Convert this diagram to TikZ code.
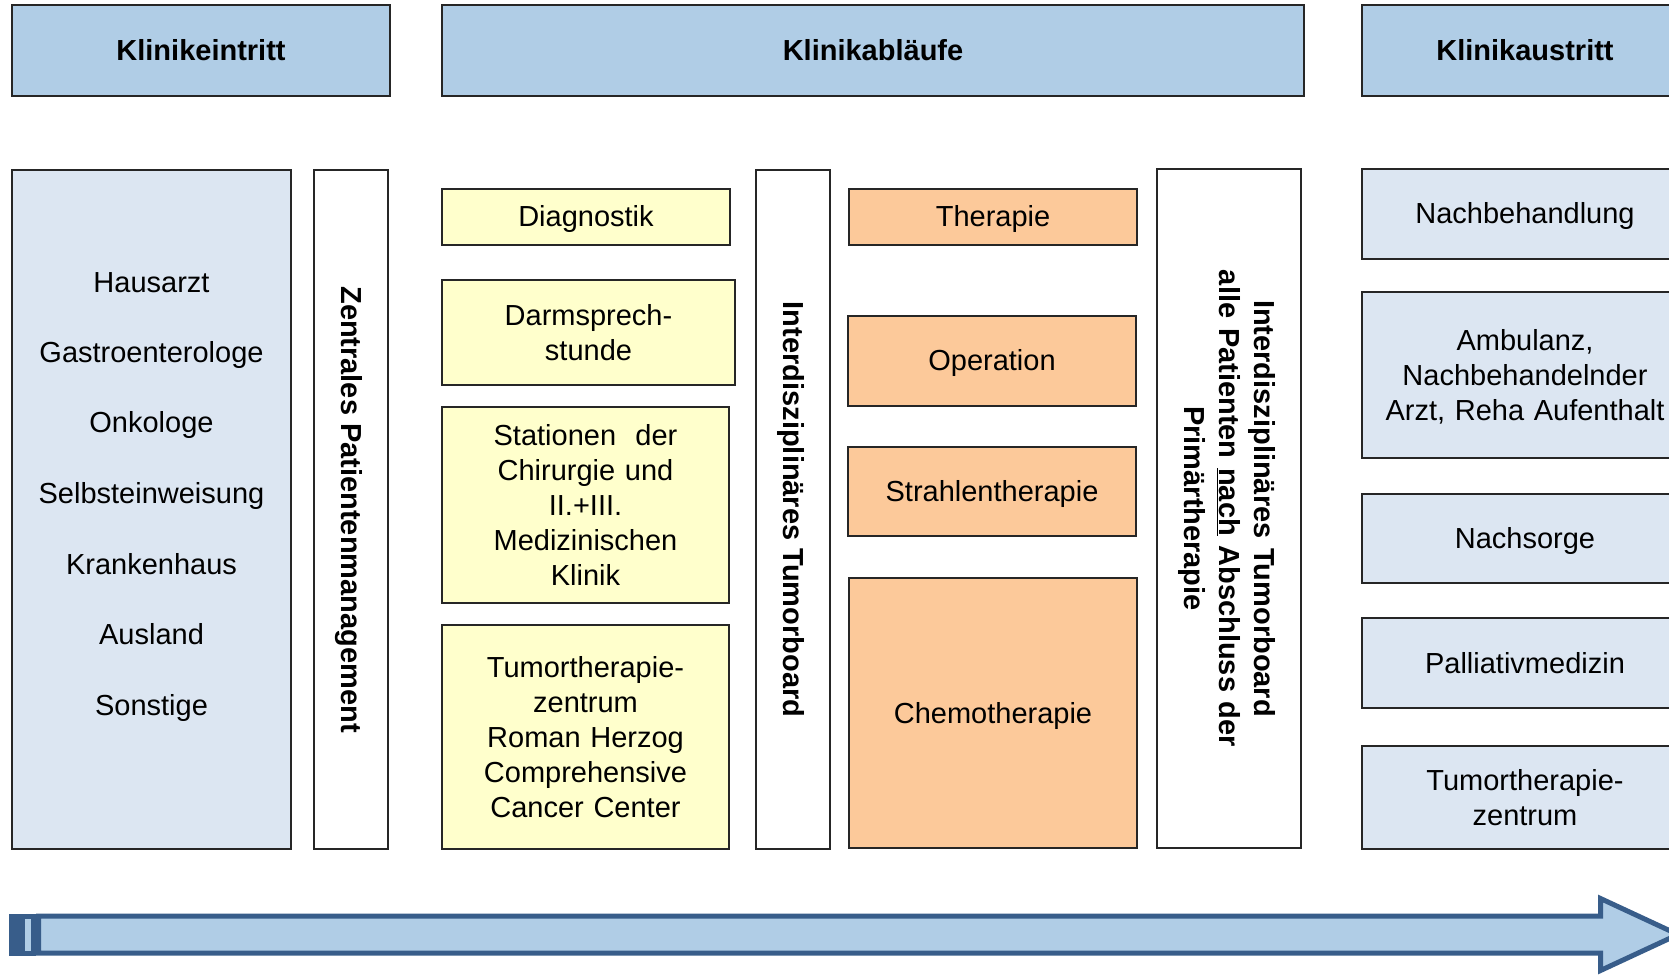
\documentclass[tikz,border=0pt]{standalone}
\usepackage{fontspec}
\setmainfont{Liberation Sans}
\usetikzlibrary{positioning}
\definecolor{hdrblue}{HTML}{B0CDE6}
\definecolor{paleblue}{HTML}{DCE6F2}
\definecolor{paleyellow}{HTML}{FFFFCC}
\definecolor{paleorange}{HTML}{FCC99A}
\definecolor{arrowblue}{HTML}{385D8A}
\newcommand{\txt}{\fontsize{29}{35}\selectfont}

\begin{document}
\begin{tikzpicture}[x=1pt,y=-1pt,
	line/.style={font=\txt,execute at begin node={\rule{0pt}{26pt}},execute at end node={\rule[-6pt]{0pt}{0pt}}},
	multi/.style={text width=#1,execute at end node=},
	box/.style={line,draw=black!85,line width=1.8pt,inner sep=0pt,align=center},
	hdr/.style={box,fill=hdrblue,minimum height=91pt,font=\txt\bfseries},
	vbox/.style={box,fill=white,rotate=-90,minimum width=679pt,font=\txt\bfseries},
	ybox/.style={box,fill=paleyellow,minimum width=288pt},
	obox/.style={box,fill=paleorange,minimum width=288pt},
	rbox/.style={box,fill=paleblue,minimum width=326pt}]
	\useasboundingbox (0,0) rectangle (1669,974);

	\node[hdr,minimum width=378pt] (eintritt) at (201,50.5) {Klinikeintritt};
	\node[hdr,minimum width=862pt] (ablauf) at (873,50.5) {Klinikabläufe};
	\node[hdr,minimum width=326pt] (austritt) at (1525,50.5) {Klinikaustritt};

	\node[box,fill=paleblue,minimum width=279pt,minimum height=679pt] (quellen) at (151.5,509.5) {};
	\foreach \q [count=\i] in {Hausarzt,Gastroenterologe,Onkologe,Selbsteinweisung,Krankenhaus,Ausland,Sonstige}
		\node[line,inner sep=0pt] (q\i) at (151.5,282+70.5*\i-70.5) {\q};
	\node[vbox,minimum height=74pt] (zpm) at (351,509.5) {Zentrales Patientenmanagement};

	\node[ybox,minimum height=56pt] (diag) at (586,217) {Diagnostik};
	\node[ybox,multi=280pt,minimum width=293pt,minimum height=105pt] (darm) at (588.5,332.5) {Darmsprech-\\stunde};
	\node[ybox,multi=280pt,minimum width=287pt,minimum height=196pt] (stat) at (585.5,505) {Stationen\ \ der\\Chirurgie und\\II.+III.\\Medizinischen\\Klinik};
	\node[ybox,multi=280pt,minimum width=287pt,minimum height=224pt] (ttz) at (585.5,737) {Tumortherapie-\\zentrum\\Roman Herzog\\Comprehensive\\Cancer Center};

	\node[vbox,minimum height=74pt] (board) at (793,509.5) {Interdisziplinäres Tumorboard};

	\node[obox,minimum height=56pt] (ther) at (993,217) {Therapie};
	\node[obox,minimum height=90pt] (op) at (992,361) {Operation};
	\node[obox,minimum height=89pt] (strahl) at (992,491.5) {Strahlentherapie};
	\node[obox,minimum height=270pt] (chemo) at (993,713) {Chemotherapie};

	\node[vbox,multi=640pt,minimum height=144pt] (boardnach) at (1229,508.5) {Interdisziplinäres Tumorboard\\alle Patienten \underline{nach} Abschluss der\\Primärtherapie};

	\node[rbox,minimum height=90pt] (nachbeh) at (1525,214) {Nachbehandlung};
	\node[rbox,multi=320pt,minimum height=166pt] (amb) at (1525,375) {Ambulanz,\\Nachbehandelnder\\Arzt, Reha Aufenthalt};
	\node[rbox,minimum height=89pt] (nachs) at (1525,538.5) {Nachsorge};
	\node[rbox,minimum height=90pt] (pall) at (1525,663) {Palliativmedizin};
	\node[rbox,multi=320pt,minimum height=103pt] (ttz2) at (1525,797.5) {Tumortherapie-\\zentrum};

	\begin{scope}[draw=arrowblue,fill=hdrblue,line width=5pt]
		\fill[arrowblue] (9,913.5) rectangle (20,955.5);
		\filldraw (22.5,916) rectangle (33.5,953);
		\filldraw (38.5,916) -- (1600.5,916) -- (1600.5,898.5) -- (1678,934.5)
			-- (1600.5,970.5) -- (1600.5,953) -- (38.5,953) -- cycle;
	\end{scope}
\end{tikzpicture}
\end{document}
